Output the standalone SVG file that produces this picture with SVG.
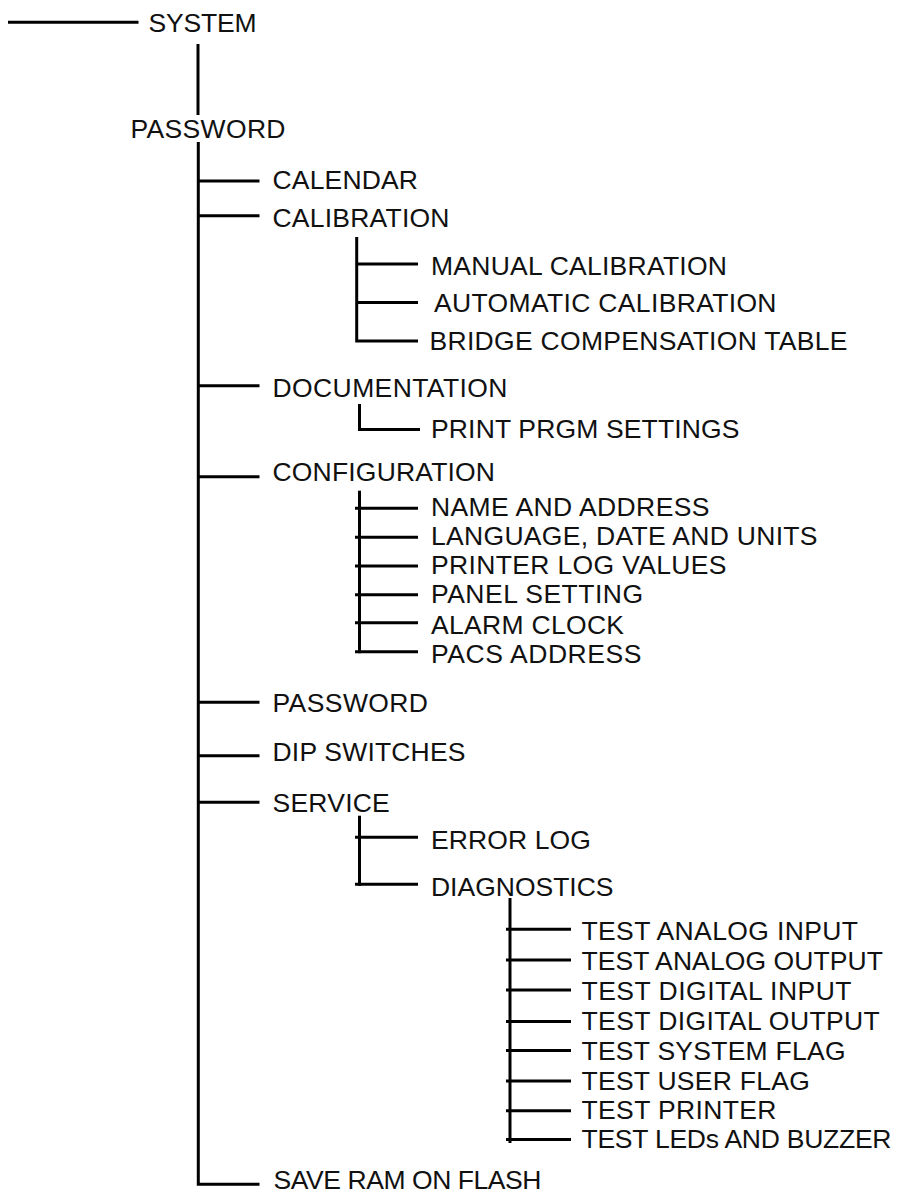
<svg xmlns="http://www.w3.org/2000/svg" width="903" height="1193" viewBox="0 0 903 1193">
<style>
  .c line, .c polyline { stroke: #000; stroke-width: 3; fill: none; }
  text { font-family: "Liberation Sans", Arial, sans-serif; font-size: 26.5px; fill: #111; }
</style>
<rect width="903" height="1193" fill="#fff"/>
<g id="connectors" class="c">
  <line x1="8" y1="22.3" x2="138.5" y2="22.3"/>
  <line x1="198" y1="44" x2="198" y2="115"/>
  <polyline points="198.3,142 198.3,1184.3 259.5,1184.3"/>
  <line x1="198.3" y1="181" x2="259.5" y2="181"/>
  <line x1="198.3" y1="215.7" x2="259.5" y2="215.7"/>
  <line x1="198.3" y1="385.7" x2="259.5" y2="385.7"/>
  <line x1="198.3" y1="476.7" x2="259.5" y2="476.7"/>
  <line x1="198.3" y1="702.3" x2="259.5" y2="702.3"/>
  <line x1="198.3" y1="755.7" x2="259.5" y2="755.7"/>
  <line x1="198.3" y1="802.3" x2="259.5" y2="802.3"/>
  <polyline points="356.7,237 356.7,341 418,341"/>
  <line x1="356.7" y1="264" x2="418" y2="264"/>
  <line x1="356.7" y1="302.5" x2="418" y2="302.5"/>
  <polyline points="359.5,404 359.5,429.5 420,429.5"/>
  <line x1="359.5" y1="490.7" x2="359.5" y2="653.2"/>
  <line x1="355" y1="508.3" x2="418" y2="508.3"/>
  <line x1="355" y1="537.3" x2="418" y2="537.3"/>
  <line x1="355" y1="566" x2="418" y2="566"/>
  <line x1="355" y1="594.7" x2="418" y2="594.7"/>
  <line x1="355" y1="622.7" x2="418" y2="622.7"/>
  <line x1="355" y1="651.7" x2="418" y2="651.7"/>
  <line x1="359.5" y1="815.7" x2="359.5" y2="885.8"/>
  <line x1="355" y1="837.3" x2="418" y2="837.3"/>
  <line x1="355" y1="884.3" x2="418" y2="884.3"/>
  <line x1="510" y1="898" x2="510" y2="1143"/>
  <line x1="506" y1="929.3" x2="571" y2="929.3"/>
  <line x1="506" y1="960" x2="571" y2="960"/>
  <line x1="506" y1="990" x2="571" y2="990"/>
  <line x1="506" y1="1021.5" x2="571" y2="1021.5"/>
  <line x1="506" y1="1050.5" x2="571" y2="1050.5"/>
  <line x1="506" y1="1081" x2="571" y2="1081"/>
  <line x1="506" y1="1110.8" x2="571" y2="1110.8"/>
  <line x1="506" y1="1139.5" x2="571" y2="1139.5"/>
</g>
<g id="system"><text x="148.5" y="31.5" textLength="108" lengthAdjust="spacing">SYSTEM</text></g>
<g id="password-top"><text x="130.5" y="138.3" textLength="155" lengthAdjust="spacing">PASSWORD</text></g>
<g id="calendar"><text x="272.5" y="189.3" textLength="145.5" lengthAdjust="spacing">CALENDAR</text></g>
<g id="calibration"><text x="272.5" y="226.7" textLength="177" lengthAdjust="spacing">CALIBRATION</text></g>
<g id="manual-calibration"><text x="431" y="274.5" textLength="296" lengthAdjust="spacing">MANUAL CALIBRATION</text></g>
<g id="automatic-calibration"><text x="434" y="312" textLength="342.5" lengthAdjust="spacing">AUTOMATIC CALIBRATION</text></g>
<g id="bridge-compensation"><text x="429.5" y="350" textLength="418" lengthAdjust="spacing">BRIDGE COMPENSATION TABLE</text></g>
<g id="documentation"><text x="272.5" y="396.7" textLength="235" lengthAdjust="spacing">DOCUMENTATION</text></g>
<g id="print-prgm"><text x="431" y="438" textLength="308.5" lengthAdjust="spacing">PRINT PRGM SETTINGS</text></g>
<g id="configuration"><text x="272.5" y="481" textLength="222.5" lengthAdjust="spacing">CONFIGURATION</text></g>
<g id="name-address"><text x="431" y="515.5" textLength="278.5" lengthAdjust="spacing">NAME AND ADDRESS</text></g>
<g id="language"><text x="431" y="545" textLength="386.5" lengthAdjust="spacing">LANGUAGE, DATE AND UNITS</text></g>
<g id="printer-log"><text x="431" y="574" textLength="295.5" lengthAdjust="spacing">PRINTER LOG VALUES</text></g>
<g id="panel-setting"><text x="431" y="603.3" textLength="212" lengthAdjust="spacing">PANEL SETTING</text></g>
<g id="alarm-clock"><text x="431" y="633.5" textLength="193" lengthAdjust="spacing">ALARM CLOCK</text></g>
<g id="pacs-address"><text x="431" y="662.5" textLength="210.5" lengthAdjust="spacing">PACS ADDRESS</text></g>
<g id="password"><text x="272.5" y="711.7" textLength="155.5" lengthAdjust="spacing">PASSWORD</text></g>
<g id="dip-switches"><text x="272.5" y="760.7" textLength="193" lengthAdjust="spacing">DIP SWITCHES</text></g>
<g id="service"><text x="272.5" y="812" textLength="117.3" lengthAdjust="spacing">SERVICE</text></g>
<g id="error-log"><text x="431" y="849" textLength="159.8" lengthAdjust="spacing">ERROR LOG</text></g>
<g id="diagnostics"><text x="431" y="896" textLength="182.5" lengthAdjust="spacing">DIAGNOSTICS</text></g>
<g id="test-analog-input"><text x="581.5" y="940" textLength="276.5" lengthAdjust="spacing">TEST ANALOG INPUT</text></g>
<g id="test-analog-output"><text x="581.5" y="969.5" textLength="301.5" lengthAdjust="spacing">TEST ANALOG OUTPUT</text></g>
<g id="test-digital-input"><text x="581.5" y="999.5" textLength="270" lengthAdjust="spacing">TEST DIGITAL INPUT</text></g>
<g id="test-digital-output"><text x="581.5" y="1030" textLength="298.3" lengthAdjust="spacing">TEST DIGITAL OUTPUT</text></g>
<g id="test-system-flag"><text x="581.5" y="1060" textLength="264" lengthAdjust="spacing">TEST SYSTEM FLAG</text></g>
<g id="test-user-flag"><text x="581.5" y="1090" textLength="228.3" lengthAdjust="spacing">TEST USER FLAG</text></g>
<g id="test-printer"><text x="581.5" y="1119.3" textLength="195" lengthAdjust="spacing">TEST PRINTER</text></g>
<g id="test-leds"><text x="581.5" y="1148.3" textLength="310" lengthAdjust="spacing">TEST LEDs AND BUZZER</text></g>
<g id="save-ram"><text x="273.5" y="1189" textLength="268" lengthAdjust="spacing">SAVE RAM ON FLASH</text></g>
</svg>
